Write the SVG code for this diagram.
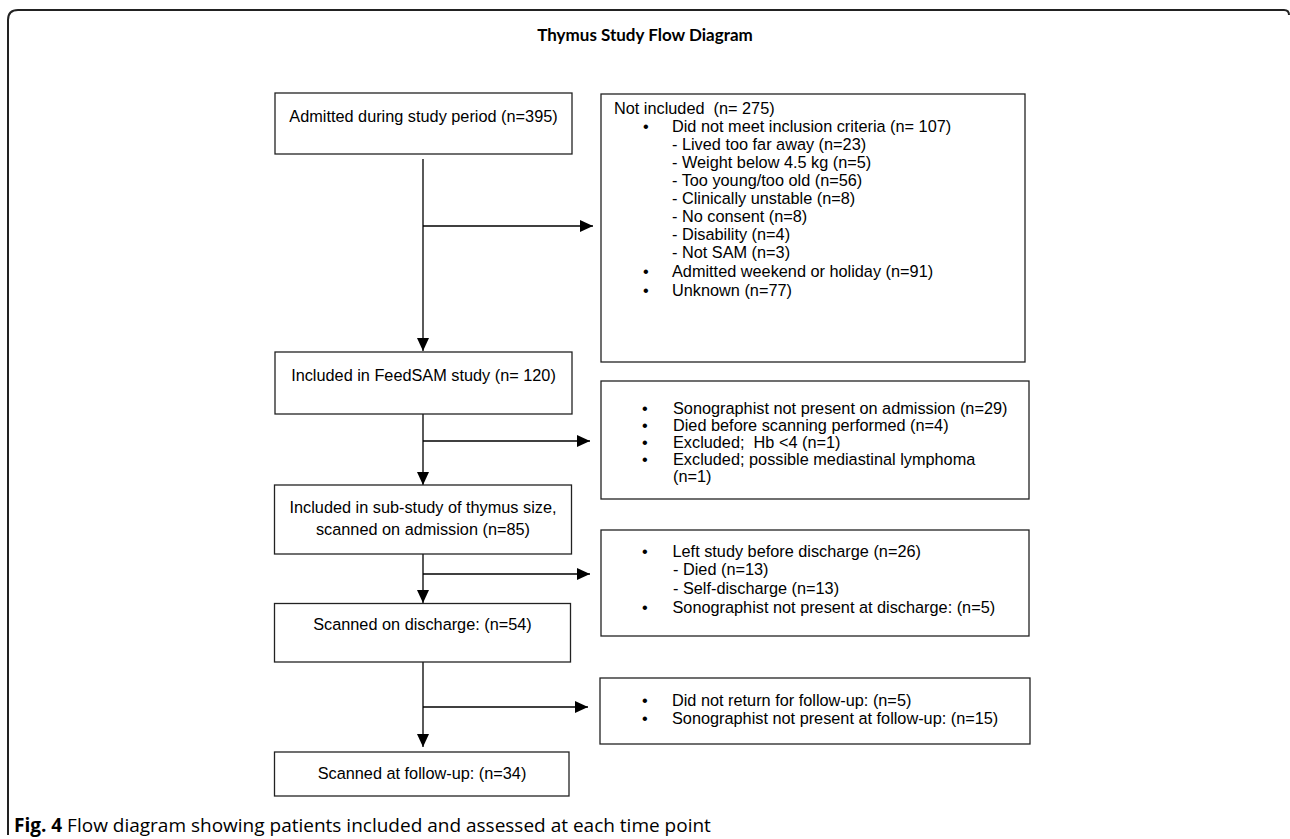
<svg xmlns="http://www.w3.org/2000/svg" width="1290" height="839" viewBox="0 0 1290 839">
<defs>
<style>
.box{fill:#fff;stroke:#222;stroke-width:1.3}
.t{font-family:"Liberation Sans",Arial,sans-serif;font-size:16.3px;fill:#000}
.c{text-anchor:middle}
.pre{white-space:pre}
.con{stroke:#000;stroke-width:1.3;fill:none}
.title{font-family:Lato,"Open Sans",sans-serif;font-weight:bold;font-size:17px;text-anchor:middle;fill:#000}
.cap{font-family:"Open Sans",sans-serif;font-size:19px;fill:#000}
</style>
<marker id="ah" markerUnits="userSpaceOnUse" markerWidth="13" markerHeight="12" refX="13" refY="6" orient="auto">
<path d="M0,0 L13,6 L0,12 Z" fill="#000"/>
</marker>
</defs>
<rect width="1290" height="839" fill="#fff"/>
<path id="frame" d="M8,835 V20 Q8,10 18,10 H1284 Q1289,10 1289,15" fill="none" stroke="#222" stroke-width="2"/>
<text class="title" x="645" y="41">Thymus Study Flow Diagram</text>

<g id="connectors">
<path class="con" d="M423,159 V351" marker-end="url(#ah)"/>
<path class="con" d="M423,226 H593" marker-end="url(#ah)"/>
<path class="con" d="M423,411 V485" marker-end="url(#ah)"/>
<path class="con" d="M423,441 H590" marker-end="url(#ah)"/>
<path class="con" d="M423,554 V603" marker-end="url(#ah)"/>
<path class="con" d="M423,574 H590" marker-end="url(#ah)"/>
<path class="con" d="M423,662 V747" marker-end="url(#ah)"/>
<path class="con" d="M423,707 H588" marker-end="url(#ah)"/>
</g>

<g id="admitted">
<rect class="box" x="275" y="93" width="297" height="61"/>
<text class="t c" x="423.5" y="122">Admitted during study period (n=395)</text>
</g>

<g id="feedsam">
<rect class="box" x="275" y="352" width="297" height="62"/>
<text class="t c" x="423.5" y="381">Included in FeedSAM study (n= 120)</text>
</g>

<g id="substudy">
<rect class="box" x="274.5" y="485" width="297" height="69"/>
<text class="t c" x="423" y="513">Included in sub-study of thymus size,</text>
<text class="t c" x="423" y="535">scanned on admission (n=85)</text>
</g>

<g id="discharge">
<rect class="box" x="274.5" y="603.5" width="296" height="58.5"/>
<text class="t c" x="422.5" y="630">Scanned on discharge: (n=54)</text>
</g>

<g id="followup">
<rect class="box" x="274.5" y="752" width="294.5" height="44"/>
<text class="t c" x="422" y="779">Scanned at follow-up: (n=34)</text>
</g>

<g id="notincluded">
<rect class="box" x="601" y="94" width="424" height="268"/>
<text class="t pre" x="614" y="114">Not included  (n= 275)</text>
<text class="t" x="643" y="132">•</text>
<text class="t" x="672" y="132">Did not meet inclusion criteria (n= 107)</text>
<text class="t" x="672" y="150">- Lived too far away (n=23)</text>
<text class="t" x="672" y="168">- Weight below 4.5 kg (n=5)</text>
<text class="t" x="672" y="186">- Too young/too old (n=56)</text>
<text class="t" x="672" y="204">- Clinically unstable (n=8)</text>
<text class="t" x="672" y="222">- No consent (n=8)</text>
<text class="t" x="672" y="240">- Disability (n=4)</text>
<text class="t" x="672" y="258">- Not SAM (n=3)</text>
<text class="t" x="643" y="277">•</text>
<text class="t" x="672" y="277">Admitted weekend or holiday (n=91)</text>
<text class="t" x="643" y="296">•</text>
<text class="t" x="672" y="296">Unknown (n=77)</text>
</g>

<g id="notscanned">
<rect class="box" x="601" y="381" width="428" height="118"/>
<text class="t" x="642" y="414">•</text>
<text class="t" x="673" y="414">Sonographist not present on admission (n=29)</text>
<text class="t" x="642" y="431">•</text>
<text class="t" x="673" y="431">Died before scanning performed (n=4)</text>
<text class="t" x="642" y="448">•</text>
<text class="t pre" x="673" y="448">Excluded;  Hb &lt;4 (n=1)</text>
<text class="t" x="642" y="465">•</text>
<text class="t" x="673" y="465">Excluded; possible mediastinal lymphoma</text>
<text class="t" x="673" y="482">(n=1)</text>
</g>

<g id="leftstudy">
<rect class="box" x="601" y="530" width="428" height="106"/>
<text class="t" x="642" y="557">•</text>
<text class="t" x="672.5" y="557">Left study before discharge (n=26)</text>
<text class="t" x="673" y="575">- Died (n=13)</text>
<text class="t" x="673" y="594">- Self-discharge (n=13)</text>
<text class="t" x="642" y="613">•</text>
<text class="t" x="672.5" y="613">Sonographist not present at discharge: (n=5)</text>
</g>

<g id="nofollowup">
<rect class="box" x="600" y="678" width="430" height="66"/>
<text class="t" x="642" y="706">•</text>
<text class="t" x="672" y="706">Did not return for follow-up: (n=5)</text>
<text class="t" x="642" y="724">•</text>
<text class="t" x="672" y="724">Sonographist not present at follow-up: (n=15)</text>
</g>

<text class="cap" x="14" y="832"><tspan font-weight="bold">Fig. 4</tspan> Flow diagram showing patients included and assessed at each time point</text>
</svg>
